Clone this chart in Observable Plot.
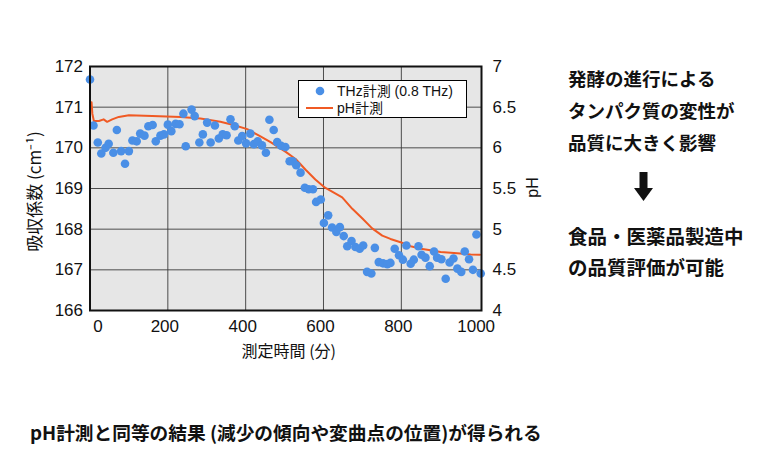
<!DOCTYPE html>
<html><head><meta charset="utf-8">
<script src="https://cdn.jsdelivr.net/npm/d3@7"></script>
<script src="https://cdn.jsdelivr.net/npm/@observablehq/plot@0.6"></script>
<style>
body{margin:0;background:#fff;}
#wrap{position:relative;width:769px;height:462px;overflow:hidden;background:#fff;}
.note{position:absolute;font-family:"Noto Sans CJK JP",sans-serif;font-weight:700;color:#111;white-space:nowrap;line-height:1;}
#legend{position:absolute;left:298px;top:80px;width:167px;height:36px;border:1px solid #000;background:#fff;font-family:"Liberation Sans","Noto Sans CJK JP",sans-serif;font-size:14px;color:#111;}
#legend div{position:absolute;left:38px;line-height:1;white-space:nowrap;}
</style></head>
<body><div id="wrap"></div>
<script>
// THz absorption coefficient (cm^-1) vs measurement time (min)
const thzTime = [0,9,20,29,40,48,60,69,80,90,100,109,120,129,140,150,161,169,181,190,200,209,220,230,240,246,261,269,281,290,301,310,321,331,341,351,361,372,381,391,401,412,421,431,442,452,461,472,481,491,502,513,521,530,541,552,562,573,581,593,601,612,622,633,642,652,661,672,682,693,702,712,723,732,742,753,764,772,783,794,804,813,824,832,844,852,862,873,884,892,903,914,924,934,944,954,963,974,984,993,1004];
const thzValue = [171.68,170.55,170.13,169.86,170.00,170.10,169.88,170.44,169.92,169.61,169.92,170.18,170.16,170.35,170.30,170.53,170.56,170.16,170.30,170.33,170.57,170.41,170.59,170.58,170.84,170.04,170.94,170.78,170.13,170.33,170.62,170.13,170.55,170.23,170.33,170.31,170.70,170.53,170.18,170.29,170.11,170.35,170.09,170.16,170.06,169.88,170.69,170.44,170.14,170.05,170.02,169.67,169.67,169.57,169.39,169.02,168.98,168.98,168.67,168.73,168.15,168.34,168.04,167.93,168.05,167.83,167.58,167.71,167.56,167.52,167.60,166.95,166.91,167.54,167.19,167.16,167.14,167.17,167.52,167.36,167.25,167.60,167.15,167.25,167.58,167.37,167.30,167.09,167.45,167.30,167.26,166.78,167.18,167.28,167.03,166.95,167.45,167.26,167.00,167.87,166.91];
// pH measurement
const phTime = [4,6,10,23,35,44,57,74,100,160,233,284,335,369,404,438,464,490,503,529,554,579,604,630,648,674,700,725,751,772,798,824,850,875,901,927,952,978,1002];
const phValue = [6.56,6.42,6.33,6.33,6.35,6.32,6.35,6.38,6.40,6.39,6.38,6.36,6.32,6.28,6.23,6.14,6.07,5.99,5.95,5.86,5.73,5.61,5.51,5.44,5.39,5.25,5.13,5.01,4.92,4.88,4.84,4.79,4.76,4.74,4.72,4.71,4.70,4.69,4.685];
// ticks
const xTicks = [0,200,400,600,800,1000];
const yTicks = [166,167,168,169,170,171,172];
const phTicks = [4,4.5,5,5.5,6,6.5,7];
const xGrid = [200,400,600,800];
const yGrid = [167,168,169,170,171];

const blue = "#4a8fe6", orange = "#f05a24";
// pH axis range 4..7 mapped onto absorption axis 166..172
const phToY = p => 166 + (p - phTicks[0]) * (yTicks[yTicks.length-1]-yTicks[0]) / (phTicks[phTicks.length-1]-phTicks[0]);
const yToPh = v => phTicks[0] + (v - yTicks[0]) * (phTicks[phTicks.length-1]-phTicks[0]) / (yTicks[yTicks.length-1]-yTicks[0]);

const thz = thzTime.map((t,i)=>({t, v: thzValue[i]}));
const ph = phTime.map((t,i)=>({t, v: phToY(phValue[i])}));

const chart = Plot.plot({
  width: 769, height: 462,
  marginLeft: 89.5, marginRight: 288, marginTop: 66, marginBottom: 152,
  style: {fontFamily: "'Liberation Sans','Noto Sans CJK JP',sans-serif", fontSize: "17px", color: "#111", background: "transparent"},
  x: {domain: [0, 1006]},
  y: {domain: [166, 172]},
  marks: [
    Plot.frame({fill: "#e6e6e6"}),
    Plot.gridX(xGrid, {stroke: "#3c3c3c", strokeOpacity: 0.9, strokeWidth: 1}),
    Plot.gridY(yGrid, {stroke: "#3c3c3c", strokeOpacity: 0.9, strokeWidth: 1}),
    Plot.line(ph, {x: "t", y: "v", stroke: orange, strokeWidth: 2}),
    Plot.dot(thz, {x: "t", y: "v", r: 4.3, fill: blue}),
    Plot.frame({stroke: "#111", strokeWidth: 2}),
    Plot.axisY(yTicks, {anchor: "left", tickSize: 0, tickPadding: 7, label: null, fontSize: 17}),
    Plot.axisY(yTicks, {anchor: "right", tickSize: 0, tickPadding: 11, label: null, fontSize: 17, tickFormat: v => String(yToPh(v))}),
    Plot.axisX(xTicks.slice(1), {anchor: "bottom", tickSize: 0, tickPadding: 9, label: null, fontSize: 17, dx: -3, tickFormat: d => String(d)}),
    Plot.axisX(xTicks.slice(0,1), {anchor: "bottom", tickSize: 0, tickPadding: 9, label: null, fontSize: 17, dx: 8, tickFormat: d => String(d)}),
    Plot.text(["吸収係数 (cm⁻¹)"], {frameAnchor: "left", textAnchor: "middle", dx: -54, dy: 3, rotate: -90, fontSize: 17, fontFamily: "'Noto Sans CJK JP',sans-serif"}),
    Plot.text(["pH"], {frameAnchor: "right", textAnchor: "middle", dx: 51, dy: -1, rotate: -90, fontSize: 16, fontFamily: "'Liberation Sans',sans-serif"}),
    Plot.text(["測定時間 (分)"], {frameAnchor: "bottom", textAnchor: "middle", dy: 46, dx: 3, fontSize: 16, fontFamily: "'Noto Sans CJK JP',sans-serif"})
  ]
});
chart.style.position = "absolute"; chart.style.left = "0"; chart.style.top = "0";
const wrap = document.getElementById("wrap");
wrap.appendChild(chart);

// legend
const legend = document.createElement("div");
legend.id = "legend";
legend.innerHTML = `<svg width="40" height="36" style="position:absolute;left:0;top:0">
<circle cx="21" cy="10" r="4.3" fill="${blue}"></circle>
<line x1="7" x2="34" y1="27" y2="27" stroke="${orange}" stroke-width="2"></line></svg>
<div style="top:3px">THz計測 (0.8 THz)</div><div style="top:20px">pH計測</div>`;
wrap.appendChild(legend);

// right-side annotation
const notes = [
  ["発酵の進行による", 69, 18.5],
  ["タンパク質の変性が", 101, 18.5],
  ["品質に大きく影響", 133, 18.5],
  ["食品・医薬品製造中", 226, 19.5],
  ["の品質評価が可能", 257, 19.5]
];
for (const [txt, top, fs] of notes) {
  const d = document.createElement("div");
  d.className = "note"; d.textContent = txt;
  d.style.left = "568px"; d.style.top = top + "px"; d.style.fontSize = fs + "px";
  wrap.appendChild(d);
}
const arrow = document.createElementNS("http://www.w3.org/2000/svg", "svg");
arrow.setAttribute("width", "19"); arrow.setAttribute("height", "29");
arrow.style.position = "absolute"; arrow.style.left = "634px"; arrow.style.top = "172px";
arrow.innerHTML = `<rect x="5.5" y="0" width="8" height="17" fill="#111"></rect><polygon points="0,16 19,16 9.5,29" fill="#111"></polygon>`;
wrap.appendChild(arrow);

const cap = document.createElement("div");
cap.className = "note"; cap.textContent = "pH計測と同等の結果 (減少の傾向や変曲点の位置)が得られる";
cap.style.left = "30px"; cap.style.top = "423px"; cap.style.fontSize = "18.7px";
wrap.appendChild(cap);
</script>
</body></html>
